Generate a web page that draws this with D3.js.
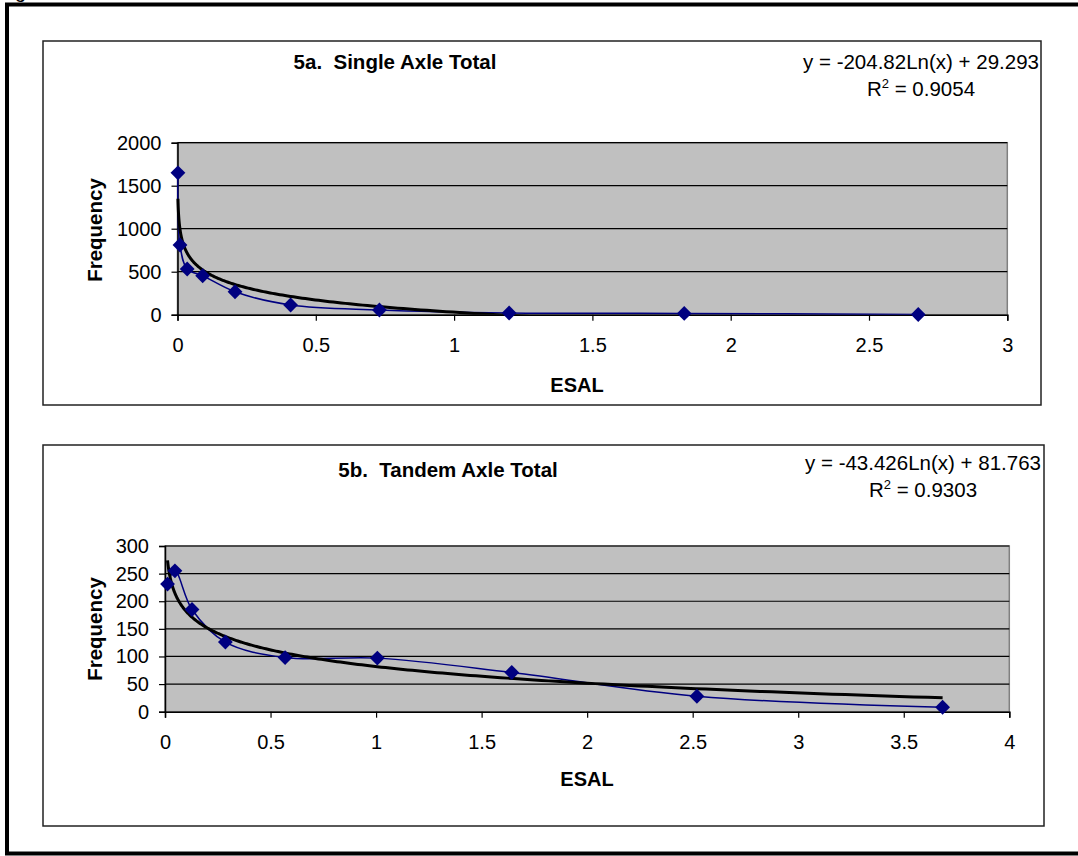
<!DOCTYPE html>
<html>
<head>
<meta charset="utf-8">
<script src="https://cdn.jsdelivr.net/npm/d3@7"></script>
<style>
  body { margin: 0; background: #fff; }
  svg { display: block; font-family: "Liberation Sans", Arial, sans-serif; }
  .keep-space { white-space: pre; }
</style>
</head>
<body>
<div id="chart"></div>
<script>
// values
var singleEsal = [0.0016, 0.009, 0.035, 0.091, 0.208, 0.409, 0.73, 1.199, 1.832, 2.678];
var singleFreq = [1650, 810, 531, 453, 267, 113, 55, 20, 15, 2];
var tandemEsal = [0.012, 0.047, 0.128, 0.286, 0.569, 1.006, 1.643, 2.52, 3.684];
var tandemFreq = [231, 255, 185, 126, 98, 97, 71, 28, 8];

// log trendline coefficients as printed on the chart: y = a Ln(x) + b
var singleTrend = [-204.82, 29.293];
var tandemTrend = [-43.426, 81.763];
var trendLabels = [["y = -204.82Ln(x) + 29.293", "0.9054"], ["y = -43.426Ln(x) + 81.763", "0.9303"]];
var titles = ["5a.  Single Axle Total", "5b.  Tandem Axle Total"];

var xTicks1 = [0, 0.5, 1, 1.5, 2, 2.5, 3];
var yTicks1 = [0, 500, 1000, 1500, 2000];
var xTicks2 = [0, 0.5, 1, 1.5, 2, 2.5, 3, 3.5, 4];
var yTicks2 = [0, 50, 100, 150, 200, 250, 300];

var W = 1078, H = 856;

var svg = d3.select("#chart").append("svg")
  .attr("width", W)
  .attr("height", H);

// stray letter from the text above the figure (only its tail shows)
svg.append("text").attr("x", 15).attr("y", -2).attr("font-size", 20).text("g");

// thick outer frame (right side runs off the page)
svg.append("rect")
  .attr("x", 7).attr("y", 4.5)
  .attr("width", 1100).attr("height", 849)
  .attr("fill", "none").attr("stroke", "#000").attr("stroke-width", 4);

var defs = svg.append("defs");

function drawChart(cfg) {
  var g = svg.append("g");

  // chart box
  g.append("rect")
    .attr("x", cfg.box[0]).attr("y", cfg.box[1])
    .attr("width", cfg.box[2] - cfg.box[0]).attr("height", cfg.box[3] - cfg.box[1])
    .attr("fill", "#fff").attr("stroke", "#222").attr("stroke-width", 1.5);

  var x = d3.scaleLinear().domain(cfg.xDomain).range([cfg.plot[0], cfg.plot[2]]);
  var y = d3.scaleLinear().domain(cfg.yDomain).range([cfg.plot[3], cfg.plot[1]]);

  // plot area
  g.append("rect")
    .attr("x", cfg.plot[0]).attr("y", cfg.plot[1])
    .attr("width", cfg.plot[2] - cfg.plot[0]).attr("height", cfg.plot[3] - cfg.plot[1])
    .attr("fill", "#c0c0c0").attr("stroke", "#808080").attr("stroke-width", 1.5);

  // gridlines
  g.append("g")
    .selectAll("line")
    .data(cfg.yTicks.slice(1))
    .enter().append("line")
    .attr("x1", cfg.plot[0]).attr("x2", cfg.plot[2])
    .attr("y1", function(d) { return y(d); })
    .attr("y2", function(d) { return y(d); })
    .attr("stroke", "#000").attr("stroke-width", 1.2);

  // axes
  var xAxis = d3.axisBottom(x).tickValues(cfg.xTicks).tickSize(6).tickPadding(17)
    .tickFormat(d3.format("~g"));
  var yAxis = d3.axisLeft(y).tickValues(cfg.yTicks).tickSize(6).tickPadding(10)
    .tickFormat(d3.format("d"));

  var xa = g.append("g")
    .attr("transform", "translate(0," + cfg.plot[3] + ")")
    .call(xAxis);
  var ya = g.append("g")
    .attr("transform", "translate(" + cfg.plot[0] + ",0)")
    .call(yAxis);
  [xa, ya].forEach(function(a) {
    a.select(".domain").attr("stroke", "#000").attr("stroke-width", 1.5);
    a.selectAll(".tick line").attr("stroke", "#000").attr("stroke-width", 1.2);
    a.selectAll(".tick text").attr("font-size", 20).attr("fill", "#000")
      .attr("font-family", "Liberation Sans, Arial, sans-serif");
  });

  // clip for lines
  var clipId = "clip" + cfg.id;
  defs.append("clipPath").attr("id", clipId)
    .append("rect")
    .attr("x", cfg.plot[0] - 10).attr("y", cfg.plot[1])
    .attr("width", cfg.plot[2] - cfg.plot[0] + 20).attr("height", cfg.plot[3] - cfg.plot[1]);

  var pts = cfg.xs.map(function(d, i) { return [d, cfg.ys[i]]; });

  // data line, smoothed like the spreadsheet
  var line = d3.line()
    .x(function(d) { return x(d[0]); })
    .y(function(d) { return y(d[1]); })
    .curve(d3.curveCatmullRom.alpha(0.5));

  g.append("path")
    .datum(pts)
    .attr("clip-path", "url(#" + clipId + ")")
    .attr("d", line)
    .attr("fill", "none")
    .attr("stroke", "#000080")
    .attr("stroke-width", 1.5);

  // log trendline over the data range
  var xmin = d3.min(cfg.xs), xmax = d3.max(cfg.xs);
  var trend = d3.range(0, 301).map(function(i) {
    var xv = xmin * Math.pow(xmax / xmin, i / 300);
    return [xv, cfg.trend[0] * Math.log(xv) + cfg.trend[1]];
  });
  g.append("path")
    .datum(trend)
    .attr("clip-path", "url(#" + clipId + ")")
    .attr("d", d3.line().x(function(d) { return x(d[0]); }).y(function(d) { return y(d[1]); }))
    .attr("fill", "none")
    .attr("stroke", "#000")
    .attr("stroke-width", 3);

  // diamond markers
  g.append("g")
    .selectAll("path")
    .data(pts)
    .enter().append("path")
    .attr("d", d3.symbol().type(d3.symbolSquare).size(110))
    .attr("transform", function(d) {
      return "translate(" + x(d[0]) + "," + y(d[1]) + ") rotate(45)";
    })
    .attr("fill", "#000080");

  // titles
  g.append("text")
    .attr("class", "keep-space")
    .attr("x", cfg.titlePos[0]).attr("y", cfg.titlePos[1])
    .attr("text-anchor", "middle")
    .attr("font-size", 20.5).attr("font-weight", "bold")
    .text(cfg.title);

  g.append("text")
    .attr("x", cfg.xTitlePos[0]).attr("y", cfg.xTitlePos[1])
    .attr("text-anchor", "middle")
    .attr("font-size", 20).attr("font-weight", "bold")
    .text("ESAL");

  g.append("text")
    .attr("transform", "translate(" + cfg.yTitlePos[0] + "," + cfg.yTitlePos[1] + ") rotate(-90)")
    .attr("text-anchor", "middle")
    .attr("font-size", 20.5).attr("font-weight", "bold")
    .text("Frequency");

  // trendline equation
  g.append("text")
    .attr("x", cfg.eqPos[0]).attr("y", cfg.eqPos[1])
    .attr("text-anchor", "middle")
    .attr("font-size", 20.5)
    .text(cfg.eq[0]);

  var r2 = g.append("text")
    .attr("x", cfg.eqPos[0]).attr("y", cfg.eqPos[1] + 27)
    .attr("text-anchor", "middle")
    .attr("font-size", 20.5);
  r2.append("tspan").text("R");
  r2.append("tspan").attr("dy", -8).attr("font-size", 13).text("2");
  r2.append("tspan").attr("dy", 8).text(" = " + cfg.eq[1]);
}

drawChart({
  id: 1,
  box: [43, 41, 1041, 405],
  plot: [177.5, 142.7, 1007.3, 314.7],
  xDomain: [0, 3], yDomain: [0, 2000],
  xTicks: xTicks1, yTicks: yTicks1,
  xs: singleEsal, ys: singleFreq, trend: singleTrend,
  title: titles[0], titlePos: [395, 69],
  xTitlePos: [577, 392], yTitlePos: [102, 230],
  eq: trendLabels[0], eqPos: [921, 69]
});

drawChart({
  id: 2,
  box: [43, 445, 1044, 826],
  plot: [165, 546, 1009.3, 711.7],
  xDomain: [0, 4], yDomain: [0, 300],
  xTicks: xTicks2, yTicks: yTicks2,
  xs: tandemEsal, ys: tandemFreq, trend: tandemTrend,
  title: titles[1], titlePos: [448, 477],
  xTitlePos: [587, 786], yTitlePos: [102, 629],
  eq: trendLabels[1], eqPos: [923, 470]
});
</script>
</body>
</html>
